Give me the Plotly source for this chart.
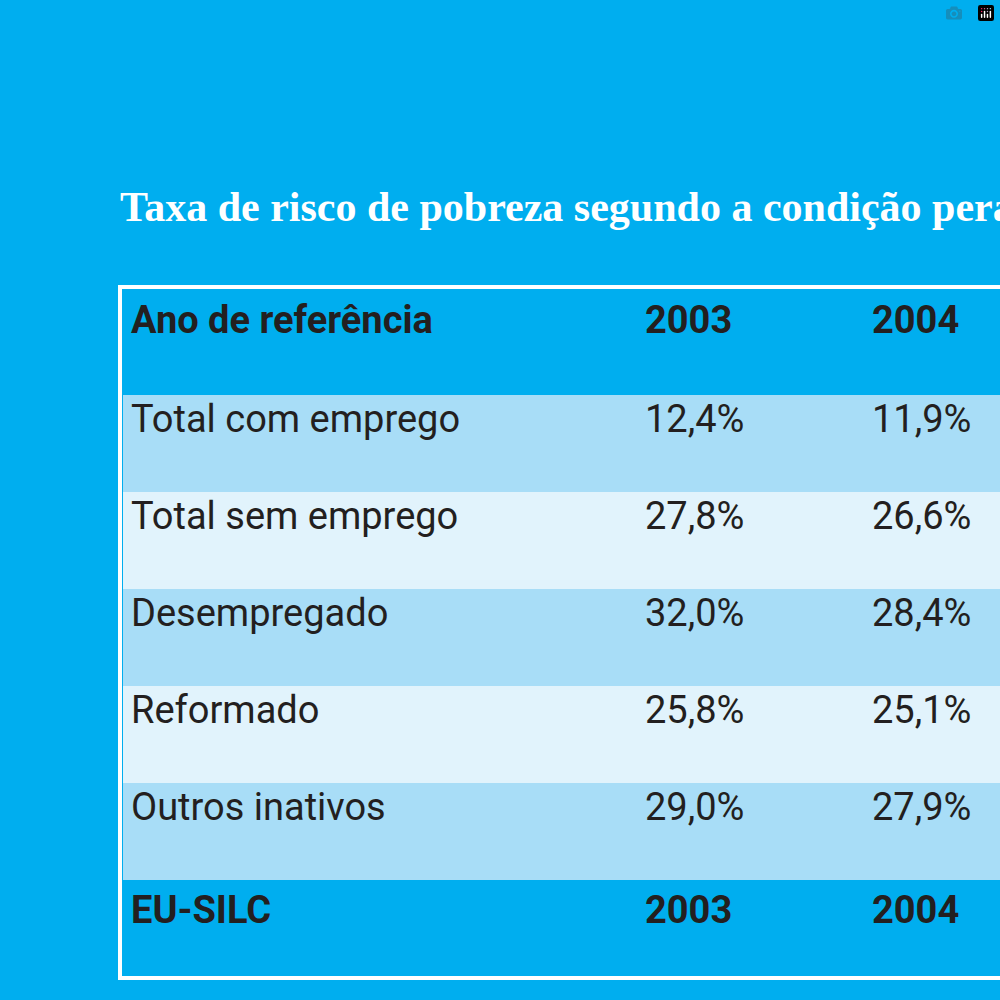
import plotly.graph_objects as go

title = "Taxa de risco de pobreza segundo a condição perante o trabalho"
header = ["Ano de referência", "2003", "2004"]
categories = ["Total com emprego", "Total sem emprego", "Desempregado", "Reformado", "Outros inativos"]
v2003 = ["12,4%", "27,8%", "32,0%", "25,8%", "29,0%"]
v2004 = ["11,9%", "26,6%", "28,4%", "25,1%", "27,9%"]
footer = ["EU-SILC", "2003", "2004"]

BG = "#00AEEF"
dark = "#231F20"
fills = ["#A8DDF7", "#E1F3FC", "#A8DDF7", "#E1F3FC", "#A8DDF7", BG]

col1 = categories + [f"<b>{footer[0]}</b>"]
col2 = v2003 + [f"<b>{footer[1]}</b>"]
col3 = v2004 + [f"<b>{footer[2]}</b>"]

fig = go.Figure(go.Table(
    domain=dict(x=[0.123, 1.0], y=[0.025, 0.71]),
    columnwidth=[514, 227, 136],
    header=dict(values=[f"<b>{h}</b>" for h in header], fill_color=BG,
                line=dict(width=0, color=BG), height=105, align="left",
                font=dict(family="Liberation Sans Narrow, Roboto", size=38, color=dark)),
    cells=dict(values=[col1, col2, col3], fill_color=[fills] * 3,
               line=dict(width=0, color=BG), height=97, align="left",
               font=dict(family="Liberation Sans Narrow, Roboto", size=38, color=dark)),
))
fig.add_shape(type="rect", xref="paper", yref="paper", x0=0.12, x1=1.1, y0=0.022, y1=0.713,
              line=dict(color="white", width=4))
fig.add_annotation(text=f"<b>{title}</b>", xref="paper", yref="paper", x=0.118, y=0.793,
                   xanchor="left", yanchor="middle", showarrow=False,
                   font=dict(family="Liberation Serif, DejaVu Serif", size=42, color="white"))
fig.update_layout(width=1000, height=1000, margin=dict(l=0, r=0, t=0, b=0),
                  paper_bgcolor=BG, plot_bgcolor=BG)
fig.write_html("out.html")

with open("out.html", encoding="utf-8") as f:
    html = f.read()
html = html.replace("<head>", "<head><style>html,body{margin:0;padding:0;background:#00AEEF;overflow:hidden}</style>", 1)
with open("out.html", "w", encoding="utf-8") as f:
    f.write(html)
